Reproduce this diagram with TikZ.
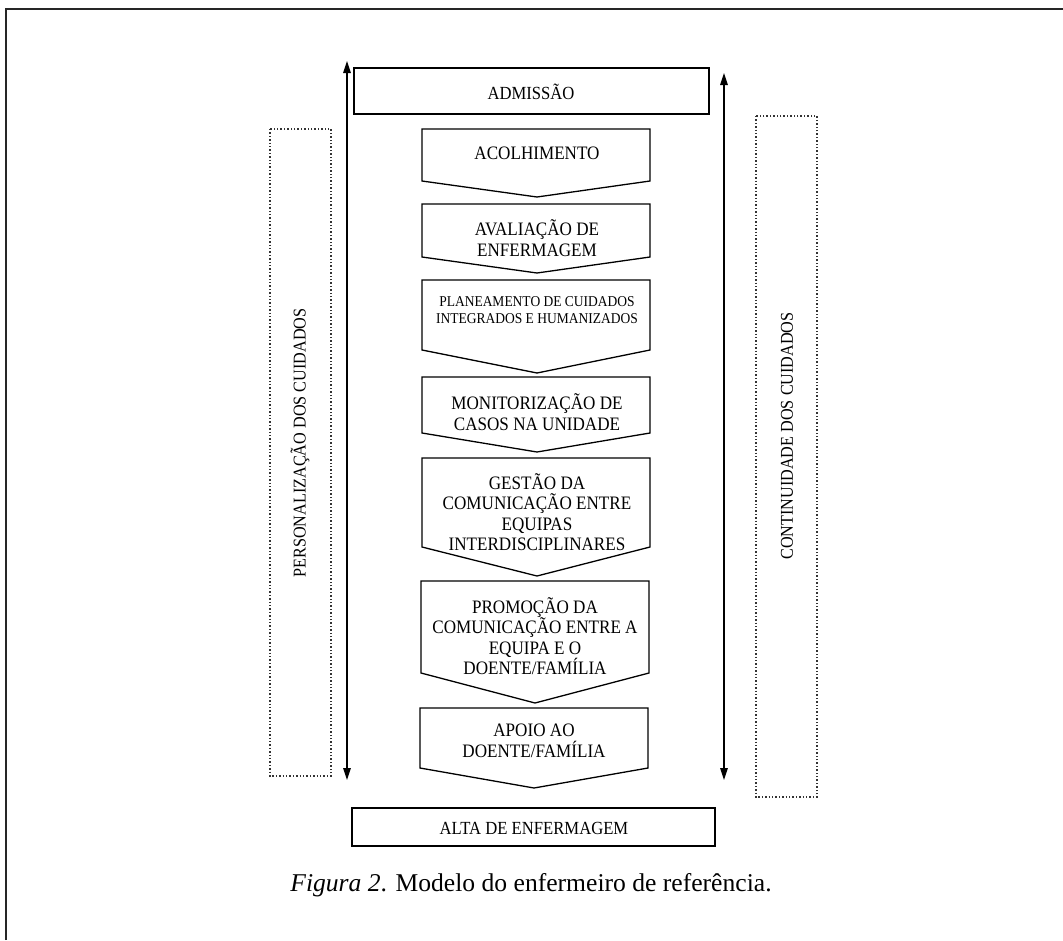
\documentclass[tikz,border=0pt]{standalone}
\usepackage{fontspec}
\setmainfont{Liberation Serif}
\newfontfamily\boxfont[FakeStretch=0.9]{Liberation Serif}
\usetikzlibrary{arrows.meta}
\tikzset{
  boxline/.style={draw=black, line width=1.3pt},
  frameline/.style={draw=black!85, line width=2pt},
  dotbox/.style={draw=black!80, line width=1.4pt, dotted},
  sidearrow/.style={draw=black, line width=1.3pt, {Triangle[length=12pt,width=7.5pt]}-{Triangle[length=12pt,width=7.5pt]}},
  lbl/.style={align=center, inner sep=0pt, font=\boxfont\fontsize{19}{20.5}\selectfont},
  lblsmall/.style={align=center, inner sep=0pt, font=\boxfont\fontsize{15}{17}\selectfont},
  lbladm/.style={align=center, inner sep=0pt, font=\boxfont\fontsize{18.5}{20}\selectfont},
  lblside/.style={align=center, inner sep=0pt, rotate=90, font=\boxfont\fontsize{18}{20}\selectfont},
}
% #1 name, #2 left, #3 right, #4 top, #5 side bottom, #6 tip y, #7 tip x
\newcommand\chevshape[7]{%
  \draw[boxline] (#2,#4) -- (#3,#4) -- (#3,#5) -- (#7,#6) -- (#2,#5) -- cycle;
  \coordinate (#1-tip) at (#7,#6);
}
\begin{document}
\begin{tikzpicture}[x=1pt,y=-1pt]
\useasboundingbox (0,0) rectangle (1063,940);
% frame
\draw[frameline] (6,940) -- (6,9) -- (1063,9);
% side dotted boxes
\draw[dotbox] (270,129) rectangle (331,776);
\draw[dotbox] (756,116) rectangle (817,797);
\node[lblside] (pers) at (300,443) {PERSONALIZAÇÃO DOS CUIDADOS};
\node[lblside] (cont) at (787,436) {CONTINUIDADE DOS CUIDADOS};
% arrows
\coordinate (la-top) at (347,61);
\coordinate (la-bot) at (347,780);
\coordinate (ra-top) at (724,73);
\coordinate (ra-bot) at (724,780);
\draw[sidearrow] (la-bot) -- (la-top);
\draw[sidearrow] (ra-bot) -- (ra-top);
% admission
\draw[boxline] (354,68) rectangle (709,114);
\node[lbladm] (adm) at (531,92) {ADMISSÃO};
% chevrons
\chevshape{c1}{422}{650}{129}{181}{197}{537}
\node[lbl] (acol) at (537,153) {ACOLHIMENTO};
\chevshape{c2}{422}{650}{204}{257}{273}{537}
\node[lbl] (aval) at (537,238) {AVALIAÇÃO DE\\ENFERMAGEM};
\chevshape{c3}{422}{650}{280}{350}{373}{537}
\node[lblsmall] (plan) at (537,310) {PLANEAMENTO DE CUIDADOS\\INTEGRADOS E HUMANIZADOS};
\chevshape{c4}{422}{650}{377}{433}{452}{537}
\node[lbl] (moni) at (537,412) {MONITORIZAÇÃO DE\\CASOS NA UNIDADE};
\chevshape{c5}{422}{650}{458}{547}{576}{537}
\node[lbl] (gest) at (537,512) {GESTÃO DA\\COMUNICAÇÃO ENTRE\\EQUIPAS\\INTERDISCIPLINARES};
\chevshape{c6}{421}{649}{581}{673}{703}{535}
\node[lbl] (prom) at (535,636) {PROMOÇÃO DA\\COMUNICAÇÃO ENTRE A\\EQUIPA E O\\DOENTE/FAMÍLIA};
\chevshape{c7}{420}{648}{708}{768}{788}{534}
\node[lbl] (apoio) at (534,741) {APOIO AO\\DOENTE/FAMÍLIA};
% discharge
\draw[boxline] (352,808) rectangle (715,846);
\node[lbladm] (alta) at (534,828) {ALTA DE ENFERMAGEM};
% caption
\node[inner sep=0pt, font=\fontsize{25.6}{28}\selectfont] (cap) at (531,885) {\textit{Figura 2}. Modelo do enfermeiro de referência.};
\end{tikzpicture}
\end{document}
